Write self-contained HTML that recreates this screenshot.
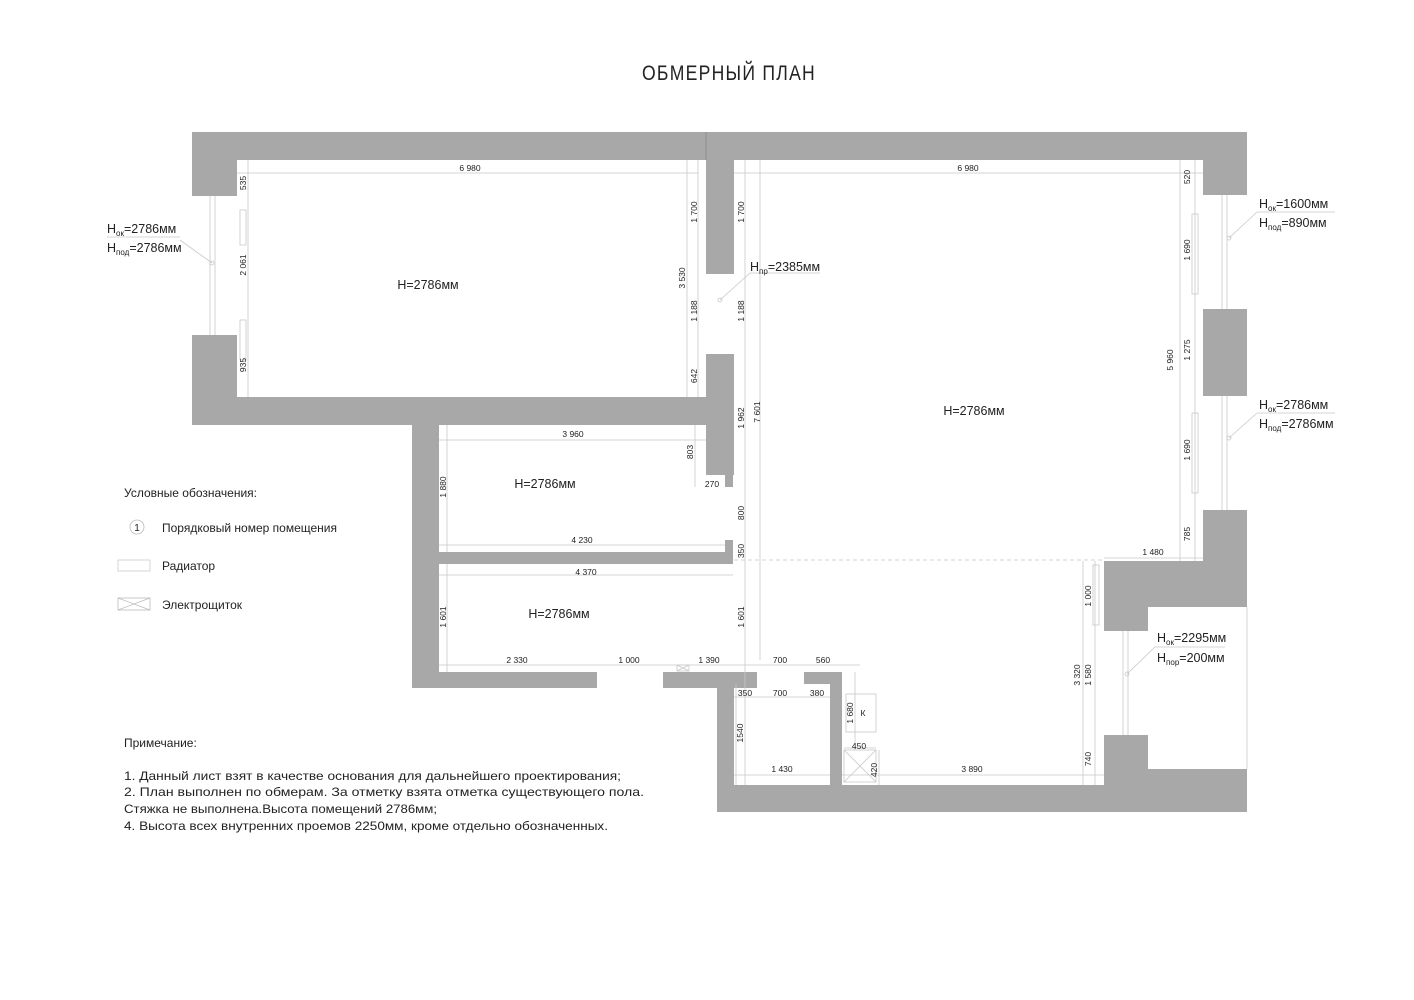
<!DOCTYPE html>
<html><head><meta charset="utf-8"><style>
html,body{margin:0;padding:0;background:#fff;}
svg{display:block;}
text{font-family:"Liberation Sans",sans-serif;fill:#222;}
.d{font-size:8.5px;fill:#333;}
.h{font-size:12.5px;}
.a{font-size:12.5px;}
.l{stroke:#c8c8c8;stroke-width:0.8;fill:none;}
.w{fill:#a8a8a8;}
</style></head><body>
<svg width="1414" height="1000" viewBox="0 0 1414 1000" xmlns="http://www.w3.org/2000/svg">
<rect width="1414" height="1000" fill="#fff"/>
<text x="729" y="80" text-anchor="middle" font-size="21" letter-spacing="1.5" textLength="174" lengthAdjust="spacingAndGlyphs">ОБМЕРНЫЙ ПЛАН</text>

<!-- walls -->
<g class="w">
<rect x="192" y="132" width="1055" height="28"/>
<rect x="192" y="132" width="45" height="64"/>
<rect x="192" y="335" width="45" height="90"/>
<rect x="192" y="397" width="541" height="28"/>
<rect x="706" y="132" width="28" height="142"/>
<rect x="706" y="354" width="28" height="121"/>
<rect x="725" y="470" width="8" height="17"/>
<rect x="412" y="425" width="27" height="263"/>
<rect x="439" y="552" width="294" height="12"/>
<rect x="725" y="540" width="8" height="12"/>
<rect x="412" y="672" width="185" height="16"/>
<rect x="663" y="672" width="94" height="16"/>
<rect x="717" y="672" width="17" height="140"/>
<rect x="804" y="672" width="38" height="12"/>
<rect x="830" y="672" width="12" height="113"/>
<rect x="717" y="785" width="530" height="27"/>
<rect x="1203" y="132" width="44" height="63"/>
<rect x="1203" y="309" width="44" height="87"/>
<rect x="1203" y="510" width="44" height="97"/>
<rect x="1104" y="561" width="143" height="46"/>
<rect x="1104" y="607" width="44" height="24"/>
<rect x="1104" y="735" width="44" height="50"/>
<rect x="1148" y="769" width="99" height="43"/>
</g>
<line x1="706" y1="132" x2="706" y2="160" stroke="#888" stroke-width="0.8"/>
<line x1="1247" y1="607" x2="1247" y2="769" class="l"/>

<!-- windows -->
<g class="l">
<line x1="210" y1="196" x2="210" y2="335"/><line x1="215" y1="196" x2="215" y2="335"/>
<rect x="240" y="210" width="6" height="35"/><rect x="240" y="320" width="6" height="40"/>
<line x1="1222" y1="195" x2="1222" y2="309"/><line x1="1227" y1="195" x2="1227" y2="309"/>
<line x1="1222" y1="396" x2="1222" y2="510"/><line x1="1227" y1="396" x2="1227" y2="510"/>
<rect x="1192" y="214" width="6" height="80"/><rect x="1192" y="413" width="6" height="80"/>
<line x1="1123" y1="631" x2="1123" y2="735"/><line x1="1128" y1="631" x2="1128" y2="735"/>
<rect x="1093" y="565" width="6" height="60"/>
<rect x="846" y="694" width="30" height="38"/>
<rect x="844" y="750" width="32" height="32"/>
<line x1="844" y1="750" x2="876" y2="782"/><line x1="876" y1="750" x2="844" y2="782"/>
<rect x="677" y="665" width="12" height="6"/>
<line x1="677" y1="665" x2="689" y2="671"/><line x1="689" y1="665" x2="677" y2="671"/>
<line x1="734" y1="560" x2="1104" y2="560" stroke-dasharray="4 3"/>
</g>

<!-- dimension lines -->
<g class="l">
<line x1="237" y1="173" x2="698" y2="173"/>
<line x1="734" y1="173" x2="1203" y2="173"/>
<line x1="248" y1="160" x2="248" y2="397"/>
<line x1="687" y1="160" x2="687" y2="397"/>
<line x1="698" y1="160" x2="698" y2="397"/>
<line x1="745" y1="160" x2="745" y2="785"/>
<line x1="760" y1="160" x2="760" y2="660"/>
<line x1="1180" y1="160" x2="1180" y2="561"/>
<line x1="1195" y1="160" x2="1195" y2="561"/>
<line x1="1104" y1="558" x2="1203" y2="558"/>
<line x1="1083" y1="561" x2="1083" y2="785"/>
<line x1="1095" y1="561" x2="1095" y2="785"/>
<line x1="439" y1="440" x2="706" y2="440"/>
<line x1="695" y1="425" x2="695" y2="487"/>
<line x1="439" y1="545" x2="725" y2="545"/>
<line x1="439" y1="575" x2="733" y2="575"/>
<line x1="447" y1="425" x2="447" y2="552"/>
<line x1="447" y1="564" x2="447" y2="672"/>
<line x1="439" y1="665" x2="860" y2="665"/>
<line x1="734" y1="697" x2="830" y2="697"/>
<line x1="736" y1="684" x2="736" y2="785"/>
<line x1="734" y1="775" x2="830" y2="775"/>
<line x1="842" y1="775" x2="1104" y2="775"/>
<line x1="855" y1="672" x2="855" y2="750"/>
<line x1="844" y1="748" x2="876" y2="748"/>
<line x1="879" y1="750" x2="879" y2="785"/>
</g>

<!-- dim text -->
<g class="d">
<text x="470" y="171" text-anchor="middle">6 980</text>
<text x="968" y="171" text-anchor="middle">6 980</text>
<text x="573" y="437" text-anchor="middle">3 960</text>
<text x="582" y="543" text-anchor="middle">4 230</text>
<text x="586" y="575" text-anchor="middle">4 370</text>
<text x="712" y="487" text-anchor="middle">270</text>
<text x="517" y="663" text-anchor="middle">2 330</text>
<text x="629" y="663" text-anchor="middle">1 000</text>
<text x="709" y="663" text-anchor="middle">1 390</text>
<text x="780" y="663" text-anchor="middle">700</text>
<text x="823" y="663" text-anchor="middle">560</text>
<text x="745" y="696" text-anchor="middle">350</text>
<text x="780" y="696" text-anchor="middle">700</text>
<text x="817" y="696" text-anchor="middle">380</text>
<text x="859" y="749" text-anchor="middle">450</text>
<text x="782" y="772" text-anchor="middle">1 430</text>
<text x="972" y="772" text-anchor="middle">3 890</text>
<text x="1153" y="555" text-anchor="middle">1 480</text>
<text x="863" y="716" text-anchor="middle">К</text>
<g text-anchor="middle">
<text transform="translate(246,183) rotate(-90)">535</text>
<text transform="translate(246,265) rotate(-90)">2 061</text>
<text transform="translate(246,365) rotate(-90)">935</text>
<text transform="translate(697,212) rotate(-90)">1 700</text>
<text transform="translate(685,278) rotate(-90)">3 530</text>
<text transform="translate(697,311) rotate(-90)">1 188</text>
<text transform="translate(697,376) rotate(-90)">642</text>
<text transform="translate(744,212) rotate(-90)">1 700</text>
<text transform="translate(744,311) rotate(-90)">1 188</text>
<text transform="translate(744,418) rotate(-90)">1 962</text>
<text transform="translate(760,412) rotate(-90)">7 601</text>
<text transform="translate(693,452) rotate(-90)">803</text>
<text transform="translate(446,487) rotate(-90)">1 880</text>
<text transform="translate(744,513) rotate(-90)">800</text>
<text transform="translate(744,551) rotate(-90)">350</text>
<text transform="translate(446,617) rotate(-90)">1 601</text>
<text transform="translate(744,617) rotate(-90)">1 601</text>
<text transform="translate(743,733) rotate(-90)">1540</text>
<text transform="translate(853,713) rotate(-90)">1 680</text>
<text transform="translate(877,770) rotate(-90)">420</text>
<text transform="translate(1190,177) rotate(-90)">520</text>
<text transform="translate(1190,250) rotate(-90)">1 690</text>
<text transform="translate(1190,350) rotate(-90)">1 275</text>
<text transform="translate(1190,450) rotate(-90)">1 690</text>
<text transform="translate(1190,534) rotate(-90)">785</text>
<text transform="translate(1173,360) rotate(-90)">5 960</text>
<text transform="translate(1091,596) rotate(-90)">1 000</text>
<text transform="translate(1080,675) rotate(-90)">3 320</text>
<text transform="translate(1091,675) rotate(-90)">1 580</text>
<text transform="translate(1091,759) rotate(-90)">740</text>
</g>
</g>

<!-- room heights -->
<g class="h" text-anchor="middle">
<text x="428" y="289">H=2786мм</text>
<text x="545" y="488">H=2786мм</text>
<text x="559" y="618">H=2786мм</text>
<text x="974" y="415">H=2786мм</text>
</g>

<!-- annotations -->
<g class="l">
<line x1="180" y1="240" x2="212" y2="263"/><circle cx="212" cy="263" r="2"/>
<line x1="107" y1="237" x2="180" y2="237"/>
<line x1="750" y1="273" x2="720" y2="300"/><circle cx="720" cy="300" r="2"/>
<line x1="750" y1="273" x2="820" y2="273"/>
<line x1="1257" y1="212" x2="1229" y2="238"/><circle cx="1229" cy="238" r="2"/>
<line x1="1257" y1="212" x2="1335" y2="212"/>
<line x1="1257" y1="413" x2="1229" y2="438"/><circle cx="1229" cy="438" r="2"/>
<line x1="1257" y1="413" x2="1335" y2="413"/>
<line x1="1155" y1="647" x2="1127" y2="674"/><circle cx="1127" cy="674" r="2"/>
<line x1="1155" y1="647" x2="1225" y2="647"/>
</g>
<g class="a">
<text x="107" y="233">H<tspan font-size="8" dy="3">ок</tspan><tspan dy="-3">=2786мм</tspan></text>
<text x="107" y="252">H<tspan font-size="8" dy="3">под</tspan><tspan dy="-3">=2786мм</tspan></text>
<text x="750" y="271">H<tspan font-size="8" dy="3">пр</tspan><tspan dy="-3">=2385мм</tspan></text>
<text x="1259" y="208">H<tspan font-size="8" dy="3">ок</tspan><tspan dy="-3">=1600мм</tspan></text>
<text x="1259" y="227">H<tspan font-size="8" dy="3">под</tspan><tspan dy="-3">=890мм</tspan></text>
<text x="1259" y="409">H<tspan font-size="8" dy="3">ок</tspan><tspan dy="-3">=2786мм</tspan></text>
<text x="1259" y="428">H<tspan font-size="8" dy="3">под</tspan><tspan dy="-3">=2786мм</tspan></text>
<text x="1157" y="642">H<tspan font-size="8" dy="3">ок</tspan><tspan dy="-3">=2295мм</tspan></text>
<text x="1157" y="662">H<tspan font-size="8" dy="3">пор</tspan><tspan dy="-3">=200мм</tspan></text>
</g>

<!-- legend -->
<g font-size="12">
<text x="124" y="497">Условные обозначения:</text>
<circle cx="137" cy="527" r="7" fill="none" stroke="#bbb" stroke-width="0.8"/>
<text x="137" y="531" text-anchor="middle" font-size="10">1</text>
<text x="162" y="532">Порядковый номер помещения</text>
<rect x="118" y="560" width="32" height="11" fill="none" stroke="#ccc" stroke-width="0.8"/>
<text x="162" y="570">Радиатор</text>
<rect x="118" y="598" width="32" height="12" fill="none" stroke="#bbb" stroke-width="0.8"/>
<line x1="118" y1="598" x2="150" y2="610" stroke="#bbb" stroke-width="0.8"/>
<line x1="150" y1="598" x2="118" y2="610" stroke="#bbb" stroke-width="0.8"/>
<text x="162" y="609">Электрощиток</text>
</g>

<!-- notes -->
<g font-size="12">
<text x="124" y="747">Примечание:</text>
<text x="124" y="780" textLength="497" lengthAdjust="spacingAndGlyphs">1. Данный лист взят в качестве основания для дальнейшего проектирования;</text>
<text x="124" y="796" textLength="520" lengthAdjust="spacingAndGlyphs">2. План выполнен по обмерам. За отметку  взята отметка существующего пола.</text>
<text x="124" y="813" textLength="313" lengthAdjust="spacingAndGlyphs">Стяжка не выполнена.Высота помещений 2786мм;</text>
<text x="124" y="830" textLength="484" lengthAdjust="spacingAndGlyphs">4. Высота всех внутренних проемов 2250мм, кроме отдельно обозначенных.</text>
</g>
</svg>
</body></html>
